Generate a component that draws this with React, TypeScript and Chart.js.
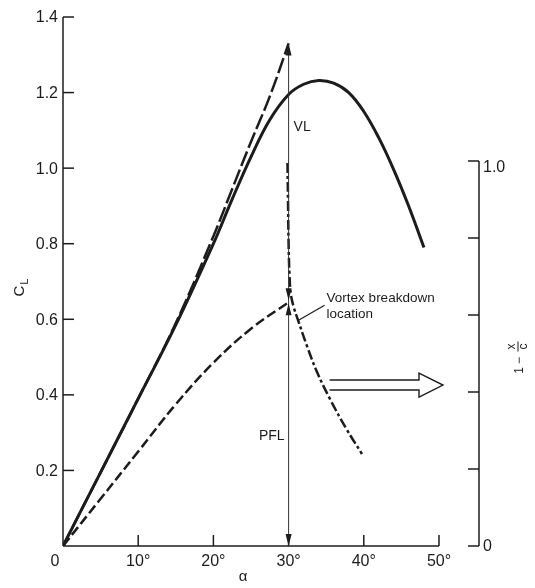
import React, { useEffect, useRef } from 'react';
import { Chart, registerables } from 'chart.js';

Chart.register(...registerables);

// ---- data ----
// measured total lift coefficient (solid)
const alphaMeasured = [0, 5, 10, 15, 20, 22.5, 25, 27.5, 30, 32, 34, 36, 38, 40, 42, 44, 46, 48];
const clMeasured = [0, 0.195, 0.39, 0.585, 0.8, 0.918, 1.03, 1.128, 1.195, 1.222, 1.232, 1.225, 1.2, 1.15, 1.08, 0.995, 0.898, 0.79];

// theory: potential + vortex lift (long dashes)
const alphaTheory = [0, 5, 10, 15, 20, 22.5, 25, 27.5, 30];
const clTheory = [0, 0.195, 0.39, 0.59, 0.82, 0.945, 1.07, 1.19, 1.33];

// potential flow lift (dashes)
const alphaPfl = [0, 5, 10, 15, 20, 25, 30];
const clPfl = [0, 0.125, 0.25, 0.375, 0.485, 0.575, 0.645];

// vortex breakdown location, 1 - x/c (dash-dot, right axis)
const alphaVb = [29.85, 29.92, 29.99, 30.12, 30.32, 30.72, 31.25, 32.45, 33.78, 35.5, 37.63, 39.76];
const vbLoc = [0.995, 0.9, 0.795, 0.704, 0.652, 0.618, 0.587, 0.519, 0.452, 0.382, 0.306, 0.239];

// markers at alpha = 30 deg
const markAlpha = 30;
const markVlTop = 1.33;
const markPflTop = 0.645;
const leaderPoint = [31.25, 0.587];
const hollowArrowLevel = 0.418;

// ticks
const xTicks = [0, 10, 20, 30, 40, 50];
const xTickLabels = ['0', '10°', '20°', '30°', '40°', '50°'];
const yTicks = [0.2, 0.4, 0.6, 0.8, 1.0, 1.2, 1.4];
const yTickLabels = ['0.2', '0.4', '0.6', '0.8', '1.0', '1.2', '1.4'];
const y2Ticks = [0, 0.2, 0.4, 0.6, 0.8, 1.0];
const y2TickLabels = ['0', '', '', '', '', '1.0'];

const FONT = '"Liberation Sans", Arial, Helvetica, sans-serif';
const INK = '#1c1c1c';

function arrowHead(ctx: CanvasRenderingContext2D, x: number, y: number, dir: number) {
  // dir = -1 points up, +1 points down
  ctx.beginPath();
  ctx.moveTo(x, y);
  ctx.lineTo(x - 3, y - dir * 12);
  ctx.lineTo(x + 3, y - dir * 12);
  ctx.closePath();
  ctx.fill();
}

const overlay = {
  id: 'overlay',
  afterDatasetsDraw(chart: any) {
    const ctx: CanvasRenderingContext2D = chart.ctx;
    const xs = chart.scales.x;
    const yl = chart.scales.y;
    const yr = chart.scales.y2;
    const area = chart.chartArea;
    ctx.save();
    ctx.strokeStyle = INK;
    ctx.fillStyle = INK;
    ctx.setLineDash([]);
    ctx.lineCap = 'butt';

    const x0 = xs.getPixelForValue(0);
    const y0 = yl.getPixelForValue(0);
    const tick = 11;

    // left axis
    ctx.lineWidth = 1.5;
    ctx.beginPath();
    ctx.moveTo(x0, y0);
    ctx.lineTo(x0, yl.getPixelForValue(yTicks[yTicks.length - 1]));
    ctx.stroke();
    ctx.font = `16px ${FONT}`;
    ctx.textAlign = 'right';
    ctx.textBaseline = 'middle';
    yTicks.forEach((v, i) => {
      const py = yl.getPixelForValue(v);
      ctx.beginPath();
      ctx.moveTo(x0, py);
      ctx.lineTo(x0 + tick, py);
      ctx.stroke();
      ctx.fillText(yTickLabels[i], x0 - 5, py + 1);
    });

    // bottom axis
    const xEnd = xs.getPixelForValue(xTicks[xTicks.length - 1]);
    ctx.beginPath();
    ctx.moveTo(x0, y0);
    ctx.lineTo(xEnd, y0);
    ctx.stroke();
    ctx.textAlign = 'center';
    ctx.textBaseline = 'top';
    xTicks.forEach((v, i) => {
      const px = xs.getPixelForValue(v);
      if (v !== 0) {
        ctx.beginPath();
        ctx.moveTo(px, y0);
        ctx.lineTo(px, y0 - tick);
        ctx.stroke();
      }
      ctx.fillText(xTickLabels[i], v === 0 ? px - 8 : px, y0 + 8);
    });

    // right axis
    const xr = area.right;
    ctx.beginPath();
    ctx.moveTo(xr, yr.getPixelForValue(0));
    ctx.lineTo(xr, yr.getPixelForValue(1));
    ctx.stroke();
    ctx.textAlign = 'left';
    ctx.textBaseline = 'middle';
    y2Ticks.forEach((v, i) => {
      const py = yr.getPixelForValue(v);
      ctx.beginPath();
      ctx.moveTo(xr, py);
      ctx.lineTo(xr - tick, py);
      ctx.stroke();
      if (y2TickLabels[i]) ctx.fillText(y2TickLabels[i], xr + 4, py + (v === 1 ? 7 : 1));
    });

    // axis titles
    ctx.font = `15px ${FONT}`;
    ctx.textAlign = 'center';
    ctx.textBaseline = 'middle';
    ctx.fillText('α', (x0 + xEnd) / 2 - 8, y0 + 31);

    // left: C_L rotated
    ctx.save();
    ctx.translate(20, (yl.getPixelForValue(0) + yl.getPixelForValue(1.4)) / 2 + 6);
    ctx.rotate(-Math.PI / 2);
    ctx.textAlign = 'left';
    ctx.textBaseline = 'middle';
    ctx.font = `15px ${FONT}`;
    ctx.fillText('C', -9, 0);
    const cw = ctx.measureText('C').width;
    ctx.font = `11px ${FONT}`;
    ctx.fillText('L', -9 + cw + 1, 5);
    ctx.restore();

    // right: 1 - x/c rotated
    ctx.save();
    ctx.translate(xr + 38, (yr.getPixelForValue(0) + yr.getPixelForValue(1)) / 2 + 4);
    ctx.rotate(-Math.PI / 2);
    ctx.font = `12px ${FONT}`;
    ctx.textAlign = 'center';
    ctx.textBaseline = 'middle';
    ctx.fillText('1', -13, 3);
    ctx.fillText('−', -3, 3);
    ctx.fillText('x', 11, -5);
    ctx.fillText('c', 11, 7);
    ctx.lineWidth = 1;
    ctx.beginPath();
    ctx.moveTo(6, 1);
    ctx.lineTo(16, 1);
    ctx.stroke();
    ctx.restore();

    // vertical arrows at alpha = 30
    const ax = xs.getPixelForValue(markAlpha);
    const yTop = yl.getPixelForValue(markVlTop);
    const yMid = yl.getPixelForValue(markPflTop);
    ctx.lineWidth = 1;
    ctx.strokeStyle = '#333';
    ctx.beginPath();
    ctx.moveTo(ax, y0);
    ctx.lineTo(ax, yTop);
    ctx.stroke();
    ctx.fillStyle = INK;
    arrowHead(ctx, ax, yTop, -1);
    arrowHead(ctx, ax, yMid - 2, 1);
    arrowHead(ctx, ax, yMid + 1, -1);
    arrowHead(ctx, ax, y0, 1);

    ctx.font = `14px ${FONT}`;
    ctx.textBaseline = 'middle';
    ctx.textAlign = 'left';
    ctx.fillText('VL', ax + 5, (yTop + yMid) / 2 - 46);
    ctx.textAlign = 'right';
    ctx.fillText('PFL', ax - 4, (yMid + y0) / 2 + 12);

    // vortex breakdown label + leader
    ctx.textAlign = 'left';
    ctx.font = `13.5px ${FONT}`;
    const lx = ax + 38;
    const ly = yMid - 4;
    ctx.fillText('Vortex breakdown', lx, ly);
    ctx.fillText('location', lx, ly + 16);
    ctx.strokeStyle = INK;
    ctx.lineWidth = 1.2;
    ctx.beginPath();
    ctx.moveTo(lx - 2, ly + 7);
    ctx.lineTo(xs.getPixelForValue(leaderPoint[0]) + 1, yr.getPixelForValue(leaderPoint[1]));
    ctx.stroke();

    // hollow arrow pointing to right axis
    const hy = yr.getPixelForValue(hollowArrowLevel);
    const hx1 = ax + 41;
    const hxTip = xr - 36;
    const hxBase = hxTip - 24;
    ctx.lineWidth = 1.4;
    ctx.fillStyle = '#fff';
    ctx.beginPath();
    ctx.moveTo(hx1, hy - 5);
    ctx.lineTo(hxBase, hy - 5);
    ctx.lineTo(hxBase, hy - 12);
    ctx.lineTo(hxTip, hy);
    ctx.lineTo(hxBase, hy + 12);
    ctx.lineTo(hxBase, hy + 5);
    ctx.lineTo(hx1, hy + 5);
    ctx.fill();
    ctx.stroke();

    ctx.restore();
  },
};

export default function App() {
  const ref = useRef<HTMLCanvasElement | null>(null);

  useEffect(() => {
    if (!ref.current) return;
    const toXY = (xs: number[], ys: number[]) => xs.map((x, i) => ({ x, y: ys[i] }));
    const chart = new Chart(ref.current, {
      type: 'line',
      data: {
        datasets: [
          {
            label: 'C_L measured',
            data: toXY(alphaMeasured, clMeasured),
            borderColor: INK,
            borderWidth: 3,
            tension: 0.4,
            pointRadius: 0,
            yAxisID: 'y',
          },
          {
            label: 'PFL + VL',
            data: toXY(alphaTheory, clTheory),
            borderColor: INK,
            borderWidth: 2.5,
            borderDash: [16, 4],
            tension: 0.4,
            pointRadius: 0,
            yAxisID: 'y',
          },
          {
            label: 'PFL',
            data: toXY(alphaPfl, clPfl),
            borderColor: INK,
            borderWidth: 2.5,
            borderDash: [10, 4],
            tension: 0.4,
            pointRadius: 0,
            yAxisID: 'y',
          },
          {
            label: 'Vortex breakdown location',
            data: toXY(alphaVb, vbLoc),
            borderColor: INK,
            borderWidth: 2.5,
            borderDash: [10, 3, 3, 3],
            tension: 0.4,
            pointRadius: 0,
            yAxisID: 'y2',
          },
        ],
      },
      options: {
        animation: false,
        responsive: false,
        devicePixelRatio: 1,
        layout: { padding: { left: 63, right: 56, top: 17, bottom: 42 } },
        plugins: { legend: { display: false }, tooltip: { enabled: false } },
        scales: {
          x: { type: 'linear', min: 0, max: 55.32, display: false },
          y: { type: 'linear', min: 0, max: 1.4, display: false },
          y2: { type: 'linear', min: 0, max: 1.374, display: false, position: 'right' },
        },
      },
      plugins: [overlay],
    });
    return () => chart.destroy();
  }, []);

  return (
    <div style={{ position: 'absolute', left: 0, top: 0, width: 535, height: 588, background: '#fff' }}>
      <canvas ref={ref} width={535} height={588} style={{ display: 'block' }} />
    </div>
  );
}
